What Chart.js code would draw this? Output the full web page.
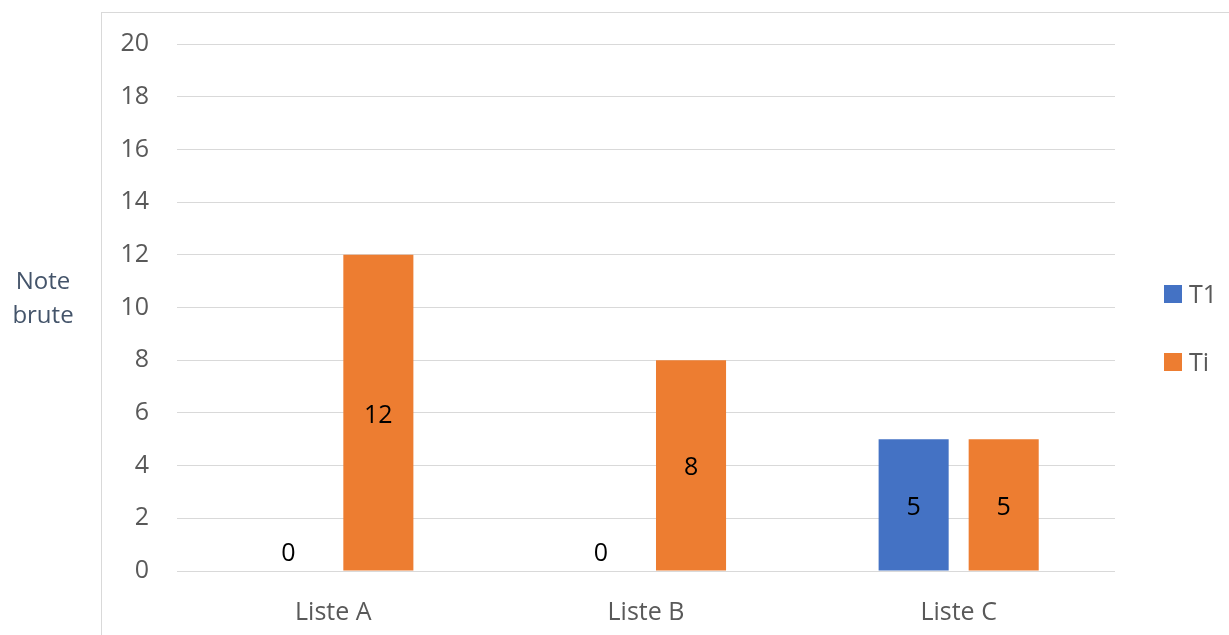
<!DOCTYPE html>
<html>
<head>
<meta charset="utf-8">
<script src="https://cdn.jsdelivr.net/npm/chart.js@4"></script>
<style>
  html, body { margin: 0; padding: 0; background: #fff; }
  #wrap { width: 1229px; height: 635px; position: relative; }
</style>
</head>
<body>
<div id="wrap"><canvas id="chart"></canvas></div>
<script>
const categories = ["Liste A", "Liste B", "Liste C"];
const seriesNames = ["T1", "Ti"];
const t1Values = [0, 0, 5];
const tiValues = [12, 8, 5];
const yTicks = [0, 2, 4, 6, 8, 10, 12, 14, 16, 18, 20];

const FONT = "'Open Sans', 'Liberation Sans', sans-serif";
const GREY = "#595959";
const BLUE = "#4472C4";
const ORANGE = "#ED7D31";

// frame, axis title, legend and value labels, Excel style
const decorations = {
    id: "decorations",
    beforeDraw(chart) {
        const ctx = chart.ctx;
        ctx.save();
        ctx.strokeStyle = "#D9D9D9";
        ctx.lineWidth = 1;
        ctx.strokeRect(101.5, 12.5, 3000, 3000);
        ctx.restore();
    },
    afterDraw(chart) {
        const ctx = chart.ctx;
        ctx.save();
        ctx.font = "24px " + FONT;
        ctx.textAlign = "center";
        ctx.textBaseline = "middle";

        // y title, two horizontal lines
        ctx.fillStyle = "#44546A";
        ctx.fillText("Note", 43, 282);
        ctx.fillText("brute", 43, 316);

        // legend
        const colors = [BLUE, ORANGE];
        const legendY = [294, 362];
        ctx.textAlign = "left";
        ctx.font = "25px " + FONT;
        seriesNames.forEach((name, i) => {
            ctx.fillStyle = colors[i];
            ctx.fillRect(1164, legendY[i] - 9, 18, 18);
            ctx.fillStyle = GREY;
            ctx.fillText(name, 1189, legendY[i] + 2);
        });

        // value labels
        ctx.textAlign = "center";
        ctx.fillStyle = "#000";
        chart.data.datasets.forEach((ds, di) => {
            chart.getDatasetMeta(di).data.forEach((bar, i) => {
                const h = bar.base - bar.y;
                const y = h < 40 ? bar.base - 20 : (bar.y + bar.base) / 2;
                ctx.fillText(String(ds.data[i]), bar.x, y + 3);
            });
        });
        ctx.restore();
    }
};

new Chart(document.getElementById("chart"), {
    type: "bar",
    data: {
        labels: categories,
        datasets: [
            {label: seriesNames[0], data: t1Values, backgroundColor: BLUE},
            {label: seriesNames[1], data: tiValues, backgroundColor: ORANGE},
        ],
    },
    options: {
        responsive: true,
        maintainAspectRatio: false,
        animation: false,
        layout: {padding: {left: 0, right: 114, top: 44, bottom: 0}},
        datasets: {bar: {categoryPercentage: 0.576, barPercentage: 0.778}},
        plugins: {
            legend: {display: false},
            tooltip: {enabled: false},
        },
        scales: {
            x: {
                grid: {display: false},
                border: {display: false},
                ticks: {color: GREY, font: {family: FONT, size: 25}, padding: 19},
                afterFit: (scale) => { scale.height = 64; },
            },
            y: {
                min: 0,
                max: 20,
                afterBuildTicks: (scale) => { scale.ticks = yTicks.map(v => ({value: v})); },
                grid: {color: "#D9D9D9", lineWidth: 1, drawTicks: false},
                border: {display: false},
                ticks: {color: GREY, font: {family: FONT, size: 25}, padding: 28},
                afterFit: (scale) => { scale.width = 177; },
            },
        },
    },
    plugins: [decorations],
});
</script>
</body>
</html>
